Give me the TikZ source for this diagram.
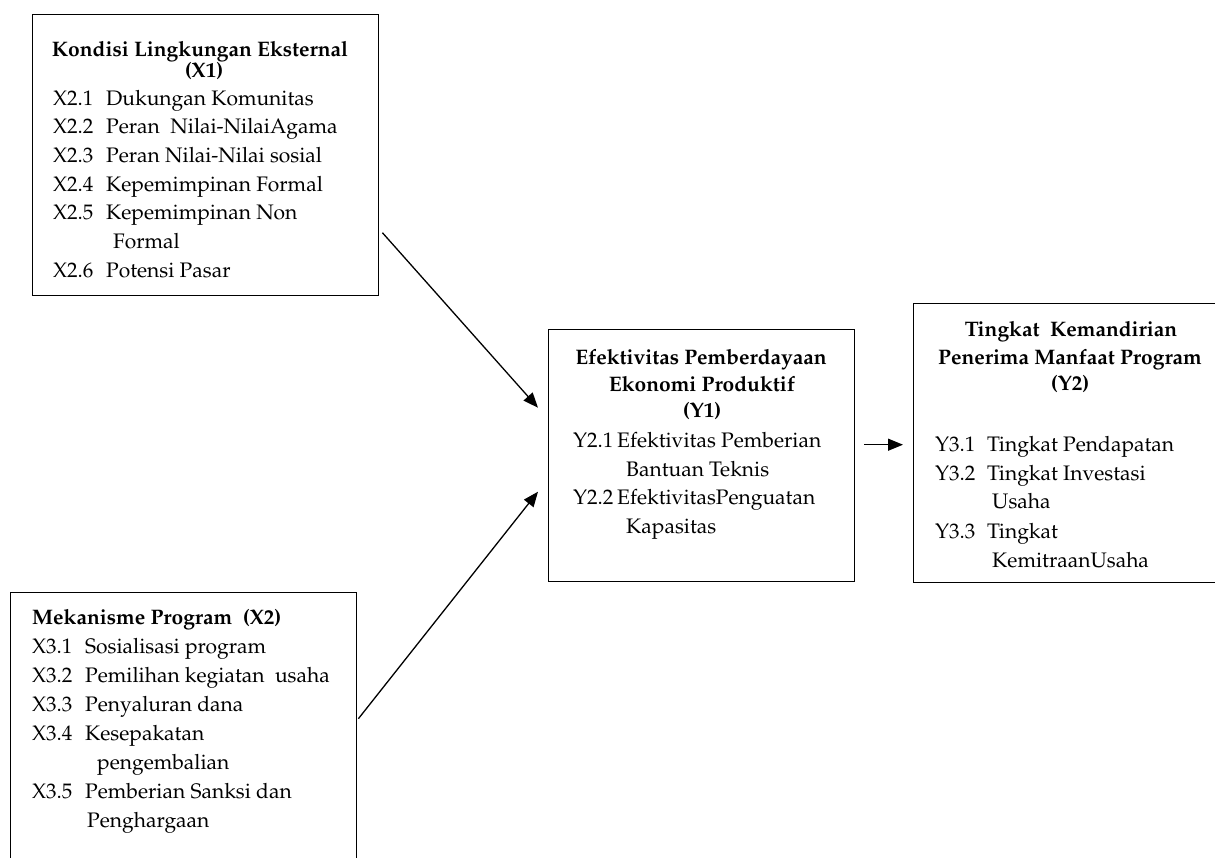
\documentclass[tikz,border=0pt]{standalone}
\usepackage[T1]{fontenc}
\renewcommand{\rmdefault}{ppl}
\usetikzlibrary{arrows.meta}
\newcommand{\lbl}[2][53pt]{\makebox[#1][l]{#2}}
\begin{document}
\begin{tikzpicture}[x=1pt,y=-1pt,
  box/.style={draw,line width=1.4pt,rectangle,inner sep=0pt,anchor=north west},
  item/.style={anchor=base west,inner sep=0pt,font=\fontsize{21}{25}\selectfont},
  ttl/.style={anchor=base,inner sep=0pt,font=\fontsize{21}{25}\selectfont\bfseries},
  ttlw/.style={ttl,anchor=base west},
  arr/.style={-{Triangle[length=15pt,width=12pt]},line width=1.3pt}]
\useasboundingbox (0,0) rectangle (1215,858);
\clip (0,0) rectangle (1215,858);
% boxes
\node[box,minimum width=346pt,minimum height=281pt] (x1) at (32,14) {};
\node[box,minimum width=346pt,minimum height=290pt] (x2) at (10,592) {};
\node[box,minimum width=306pt,minimum height=252pt] (y1) at (548,329) {};
\node[box,minimum width=312pt,minimum height=279pt] (y2) at (913,303) {};
% X1 text
\node[ttl] (x1t1) at (200,57) {Kondisi Lingkungan Eksternal};
\node[ttl] (x1t2) at (204,78) {(X1)};
\node[item] (x1a) at (53,106) {\lbl{X2.1}Dukungan Komunitas};
\node[item] (x1b) at (53,134) {\lbl{X2.2}Peran\ \ Nilai-NilaiAgama};
\node[item] (x1c) at (53,163) {\lbl{X2.3}Peran Nilai-Nilai sosial};
\node[item] (x1d) at (53,192) {\lbl{X2.4}Kepemimpinan Formal};
\node[item] (x1e) at (53,220) {\lbl{X2.5}Kepemimpinan Non};
\node[item] (x1f) at (113,249) {Formal};
\node[item] (x1g) at (53,278) {\lbl{X2.6}Potensi Pasar};
% X2 text
\node[ttlw] (x2t) at (32,624) {Mekanisme Program\ \ (X2)};
\node[item] (x2a) at (32,653) {\lbl{X3.1}Sosialisasi program};
\node[item] (x2b) at (32,682) {\lbl{X3.2}Pemilihan kegiatan\ \ usaha};
\node[item] (x2c) at (32,711) {\lbl{X3.3}Penyaluran dana};
\node[item] (x2d) at (32,740) {\lbl{X3.4}Kesepakatan};
\node[item] (x2e) at (97,769) {pengembalian};
\node[item] (x2f) at (32,798) {\lbl{X3.5}Pemberian Sanksi dan};
\node[item] (x2g) at (87,827) {Penghargaan};
% Y1 text
\node[ttl] (y1t1) at (701,364) {Efektivitas Pemberdayaan};
\node[ttl] (y1t2) at (702,391) {Ekonomi Produktif};
\node[ttl] (y1t3) at (702,417) {(Y1)};
\node[item] (y1a) at (573,447) {\lbl[44pt]{Y2.1}Efektivitas Pemberian};
\node[item] (y1b) at (626,476) {Bantuan Teknis};
\node[item] (y1c) at (573,504) {\lbl[44pt]{Y2.2}EfektivitasPenguatan};
\node[item] (y1d) at (626,533) {Kapasitas};
% Y2 text
\node[ttl] (y2t1) at (1071,337) {Tingkat\ \ Kemandirian};
\node[ttl] (y2t2) at (1070,364) {Penerima Manfaat Program};
\node[ttl] (y2t3) at (1070,390) {(Y2)};
\node[item] (y2a) at (935,451) {\lbl[52pt]{Y3.1}Tingkat Pendapatan};
\node[item] (y2b) at (935,480) {\lbl[52pt]{Y3.2}Tingkat Investasi};
\node[item] (y2c) at (992,508) {Usaha};
\node[item] (y2d) at (935,538) {\lbl[52pt]{Y3.3}Tingkat};
\node[item] (y2e) at (992,567) {KemitraanUsaha};
% connectors
\draw[arr] ([xshift=3pt,yshift=-77.5pt]x1.east) -- ([xshift=-10pt,yshift=48pt]y1.west);
\draw[arr] ([xshift=1pt,yshift=19pt]x2.east) -- ([xshift=-10pt,yshift=-36pt]y1.west);
\draw[arr] ([xshift=9pt,yshift=11pt]y1.east) -- ([xshift=-10pt,yshift=-1.5pt]y2.west);
\end{tikzpicture}
\end{document}
